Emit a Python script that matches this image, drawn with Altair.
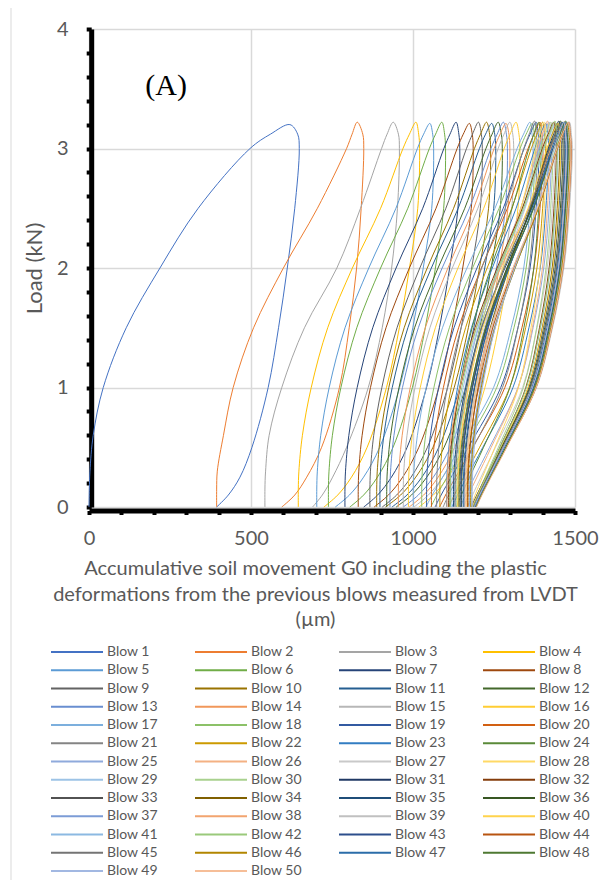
import colorsys
import altair as alt
import pandas as pd

# ---------------- data ----------------
BLOWS = [f"Blow {i}" for i in range(1, 51)]

# load levels (kN) used for the loading and unloading branches
UP_LOADS = [0, 0.15, 0.3, 0.6, 1.0, 1.5, 2.0, 2.5, 3.0, 3.12]
DN_LOADS = [3.12, 3.0, 2.5, 2.0, 1.5, 1.0, 0.5, 0.25, 0.1, 0]

# blows 1-3: displacement (µm) read at each load level
B1_UP = [0, 1, 3, 13, 44, 115, 219, 337, 497, 560]
B1_DN = [644, 649, 635, 612, 585, 553, 503, 466, 430, 394]
B2_UP = [394, 394, 396, 415, 445, 508, 600, 705, 795, 812]
B2_DN = [845, 848, 840, 826, 803, 773, 718, 672, 635, 595]
B3_UP = [543, 543, 545, 556, 595, 665, 765, 838, 903, 920]
B3_DN = [955, 958, 952, 934, 905, 862, 795, 752, 720, 690]
EARLY_PEAK_X = [620, 828, 939]
EARLY_PEAK_Y = [3.20, 3.22, 3.22]

# blows 4-50: start of loading, peak and end of unloading (µm), peak load (kN)
START = [646, 703, 739, 790, 831, 867, 888, 898, 919, 929, 955, 970, 986,
         1001, 1027, 1042, 1057, 1073, 1083, 1104, 1114, 1129, 1140, 1150,
         1166, 1120, 1135, 1158, 1110, 1145, 1170, 1125, 1150, 1175, 1105,
         1160, 1138, 1180, 1115, 1148, 1168, 1130, 1178, 1155, 1142, 1183, 1163]
PEAK_X = [1009, 1052, 1089, 1133, 1174, 1202, 1227, 1243, 1263, 1279, 1287,
          1299, 1318, 1361, 1368, 1380, 1392, 1375, 1400, 1410, 1388, 1420,
          1415, 1430, 1405, 1440, 1425, 1450, 1435, 1460, 1445, 1470, 1455,
          1478, 1465, 1483, 1448, 1474, 1438, 1468, 1480, 1458, 1476, 1462,
          1471, 1466, 1479]
END = [725, 760, 805, 848, 880, 905, 915, 935, 948, 970, 988, 1003, 1018,
       1040, 1055, 1068, 1082, 1093, 1110, 1120, 1134, 1146, 1156, 1168, 1178,
       1182, 1184, 1186, 1187, 1180, 1189, 1190, 1185, 1191, 1188, 1192, 1183,
       1193, 1186, 1190, 1194, 1187, 1194, 1191, 1195, 1189, 1196]
PEAK_Y = [3.22, 3.21, 3.22, 3.22, 3.21, 3.22, 3.22, 3.21, 3.22, 3.22, 3.21,
          3.22, 3.22, 3.22, 3.21, 3.22, 3.22, 3.23, 3.22, 3.21, 3.22, 3.22,
          3.23, 3.22, 3.22, 3.21, 3.22, 3.23, 3.22, 3.22, 3.21, 3.22, 3.23,
          3.22, 3.22, 3.22, 3.21, 3.22, 3.23, 3.22, 3.22, 3.22, 3.21, 3.22,
          3.23, 3.22, 3.22]
# shape of a loop (position between start/end and peak)
UP_FRAC = [0, 0, 0.005, 0.035, 0.11, 0.25, 0.46, 0.70, 0.89, 0.945]
DN_FRAC_MID = [1.03, 1.04, 1.02, 0.93, 0.82, 0.68, 0.47, 0.30, 0.15, 0]    # blows 4-16
DN_FRAC_LATE = [1.02, 1.03, 1.00, 0.94, 0.82, 0.65, 0.33, 0.16, 0.06, 0]  # blows 17-50

X_TICKS = list(range(0, 1501, 100))
Y_TICKS = [round(0.2 * i, 1) for i in range(21)]
X_TITLE = ["Accumulative soil movement G0 including the plastic",
           "deformations from the previous blows measured from LVDT",
           "(µm)"]
ANNOT = pd.DataFrame({"x": [238], "y": [3.52], "t": ["(A)"]})

# ---------------- colours: Office chart series palette ----------------
ACCENTS = ["#4472C4", "#ED7D31", "#A5A5A5", "#FFC000", "#5B9BD5", "#70AD47"]
SHADES = [(1.0, 0.0), (0.6, 0.0), (0.8, 0.2), (0.8, 0.0), (0.6, 0.4),
          (0.5, 0.0), (0.7, 0.3), (0.7, 0.0), (0.5, 0.5)]


def shade(hx, mod, off):
    r, g, b = [int(hx[i:i + 2], 16) / 255 for i in (1, 3, 5)]
    h, l, s = colorsys.rgb_to_hls(r, g, b)
    l = min(1.0, l * mod + off)
    r, g, b = colorsys.hls_to_rgb(h, l, s)
    return "#%02x%02x%02x" % tuple(round(c * 255) for c in (r, g, b))


COLORS = [shade(ACCENTS[i % 6], *SHADES[i // 6]) for i in range(50)]

# ---------------- build the table ----------------
rows = []
early = [(B1_UP, B1_DN), (B2_UP, B2_DN), (B3_UP, B3_DN)]
for b in range(50):
    if b < 3:
        up, dn = early[b]
        px, py = EARLY_PEAK_X[b], EARLY_PEAK_Y[b]
    else:
        k = b - 3
        s, p, e = START[k], PEAK_X[k], END[k]
        dn_frac = DN_FRAC_MID if b < 16 else DN_FRAC_LATE
        up = [s + f * (p - s) for f in UP_FRAC]
        dn = [e + f * (p - e) for f in dn_frac]
        px, py = p, PEAK_Y[k]
    pts = list(zip(up, UP_LOADS)) + [(px, py)] + list(zip(dn, DN_LOADS))
    for i, (x, y) in enumerate(pts):
        rows.append({"blow": BLOWS[b], "idx": i, "x": x, "y": y})
df = pd.DataFrame(rows)

# ---------------- chart ----------------
GRAY_TXT = "#595959"
FONT = "Lato"
Y_MAJOR = "abs(datum.value - round(datum.value)) < 0.001"

x_axis = alt.Axis(
    values=X_TICKS, tickCount=len(X_TICKS),
    labelExpr="datum.value % 500 === 0 ? format(datum.value, 'd') : ''",
    labelFlush=False, labelOverlap=False,
    grid=True, gridColor="#D9D9D9", gridWidth=1.5,
    gridOpacity={"condition": {"test": "datum.value % 500 === 0", "value": 1}, "value": 0},
    domainColor="black", domainWidth=5, offset=3.5,
    tickColor="black", tickWidth=4, tickSize=4,
    labelFont=FONT, labelFontSize=20, labelColor=GRAY_TXT, labelPadding=14,
    title=X_TITLE, titleFont=FONT, titleFontSize=20, titleFontWeight="normal",
    titleColor=GRAY_TXT, titleLineHeight=25.5, titlePadding=10, titleX=226,
)
y_axis = alt.Axis(
    values=Y_TICKS, tickCount=len(Y_TICKS),
    labelExpr=f"{Y_MAJOR} ? format(datum.value, 'd') : ''",
    labelOverlap=False,
    grid=True, gridColor="#D9D9D9", gridWidth=1.5,
    gridOpacity={"condition": {"test": Y_MAJOR, "value": 1}, "value": 0},
    domainColor="black", domainWidth=5, offset=-2.2,
    tickColor="black", tickWidth=4, tickSize=5,
    labelFont=FONT, labelFontSize=20, labelColor=GRAY_TXT, labelPadding=18,
    title="Load (kN)", titleFont=FONT, titleFontSize=22, titleFontWeight="normal",
    titleColor=GRAY_TXT, titlePadding=10,
)

legend = alt.Legend(
    title=None, orient="none", legendX=-39, legendY=615.5, columns=4,
    direction="horizontal",
    symbolType="stroke", symbolSize=2704, symbolStrokeWidth=2,
    clipHeight=15, rowPadding=3.25, columnPadding=36, gridAlign="all",
    labelFont=FONT, labelFontSize=14, labelColor=GRAY_TXT, labelOffset=3,
    padding=0, symbolLimit=50,
)

lines = alt.Chart(df).mark_line(strokeWidth=1, interpolate="catmull-rom").encode(
    x=alt.X("x:Q", scale=alt.Scale(domain=[0, 1500], nice=False), axis=x_axis),
    y=alt.Y("y:Q", scale=alt.Scale(domain=[0, 4], nice=False), axis=y_axis),
    color=alt.Color("blow:N", scale=alt.Scale(domain=BLOWS, range=COLORS),
                    sort=BLOWS, legend=legend),
    order=alt.Order("idx:Q"),
)

label = alt.Chart(ANNOT).mark_text(
    font="Liberation Serif", fontSize=30, color="black", align="center", baseline="middle"
).encode(x="x:Q", y="y:Q", text="t:N")

frame = alt.Chart(pd.DataFrame({"a": [0]})).mark_rule(color="#D9D9D9", strokeWidth=1).encode(
    x=alt.value(-78), y=alt.value(-21), y2=alt.value(851)
)

chart = alt.layer(frame, lines, label).properties(
    width=486, height=478,
    autosize=alt.AutoSizeParams(type="none"),
    padding={"left": 81, "top": 21, "right": 33, "bottom": 373},
).configure_view(stroke=None)

chart.save("out.html", embed_options={"renderer": "svg", "actions": False})
